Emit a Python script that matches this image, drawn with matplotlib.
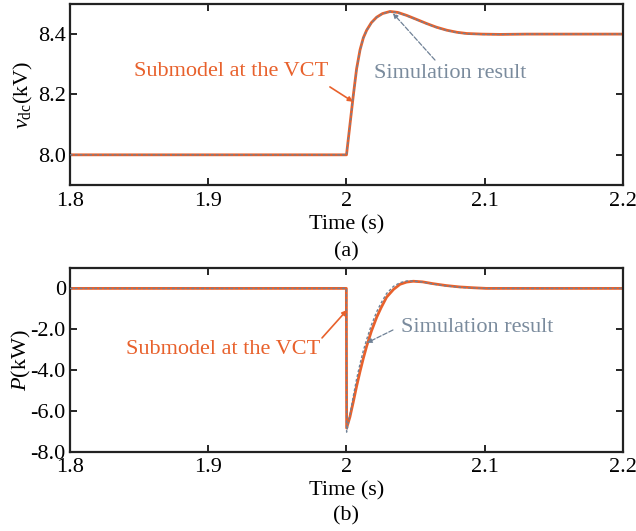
import matplotlib
matplotlib.use("Agg")
import matplotlib.pyplot as plt

# -------------------------
# DATA
# -------------------------

# (a) dc voltage, kV
t_vdc = [1.80, 2.000, 2.0025, 2.0049, 2.0073, 2.0098, 2.0122, 2.0146, 2.018, 2.0218,
         2.026, 2.0315, 2.037, 2.0435, 2.050, 2.058, 2.065, 2.0725, 2.080, 2.087,
         2.098, 2.111, 2.13, 2.20]
vdc_sub = [8.000, 8.000, 8.100, 8.196, 8.285, 8.348, 8.388, 8.413, 8.438, 8.456,
           8.468, 8.475, 8.472, 8.462, 8.450, 8.435, 8.423, 8.413, 8.406, 8.402,
           8.400, 8.399, 8.400, 8.400]
vdc_sim = [8.000, 8.000, 8.098, 8.194, 8.283, 8.347, 8.387, 8.412, 8.437, 8.455,
           8.468, 8.474, 8.471, 8.461, 8.449, 8.434, 8.422, 8.412, 8.405, 8.401,
           8.399, 8.399, 8.400, 8.400]

# (b) active power, kW
t_p = [1.80, 1.9999, 2.0001, 2.0025, 2.0049, 2.0073, 2.0098, 2.0122, 2.0146, 2.018,
       2.0218, 2.025, 2.029, 2.034, 2.0387, 2.0435, 2.0483, 2.055, 2.0627, 2.072,
       2.082, 2.092, 2.101, 2.12, 2.20]
p_sub = [0.0, 0.0, -6.85, -6.30, -5.57, -4.80, -4.07, -3.42, -2.83, -2.10,
         -1.42, -0.95, -0.43, -0.05, 0.20, 0.31, 0.35, 0.32, 0.23, 0.14,
         0.07, 0.03, 0.0, 0.0, 0.0]
p_sim = [0.0, 0.0, -7.05, -6.20, -5.30, -4.45, -3.70, -3.05, -2.50, -1.80,
         -1.15, -0.72, -0.25, 0.10, 0.28, 0.36, 0.36, 0.31, 0.21, 0.12,
         0.05, 0.02, 0.0, 0.0, 0.0]

x_ticks = [1.8, 1.9, 2.0, 2.1, 2.2]
x_ticklabels = ["1.8", "1.9", "2", "2.1", "2.2"]
vdc_ticks = [8.0, 8.2, 8.4]
vdc_ticklabels = ["8.0", "8.2", "8.4"]
p_ticks = [0, -2, -4, -6, -8]
p_ticklabels = ["0", "-2.0", "-4.0", "-6.0", "-8.0"]

# -------------------------
# STYLE
# -------------------------
plt.rcParams['font.family'] = ['Liberation Serif', 'DejaVu Serif']
plt.rcParams['mathtext.fontset'] = 'custom'
plt.rcParams['mathtext.rm'] = 'Liberation Serif'
plt.rcParams['mathtext.it'] = 'Liberation Serif:italic'
plt.rcParams['font.size'] = 16

fs = 16
orange = '#E8612C'
grey = '#6F8196'
text_grey = '#7A8B9D'

fig = plt.figure(figsize=(6.36, 5.31), dpi=100)
ax1 = fig.add_axes([0.110, 0.6516, 0.8696, 0.341])
ax2 = fig.add_axes([0.110, 0.1497, 0.8696, 0.3456])


def style_axis(ax):
    ax.set_xlim(1.8, 2.2)
    ax.set_xticks(x_ticks)
    ax.set_xticklabels(x_ticklabels)
    ax.tick_params(direction='in', top=True, right=True, length=5, width=1.2,
                   labelsize=fs, pad=3)
    ax.tick_params(axis='x', pad=5)
    for sp in ax.spines.values():
        sp.set_linewidth(1.6)
        sp.set_color('#222222')


def arrow(ax, start, end, color, ls='-', lw=1.2):
    ax.annotate('', xy=end, xytext=start,
                arrowprops=dict(arrowstyle='-|>', color=color, lw=lw, ls=ls,
                                mutation_scale=7, shrinkA=0, shrinkB=0))


# --- (a) ---
ax1.plot(t_vdc, vdc_sub, color=orange, lw=2.0, zorder=2)
ax1.plot(t_vdc, vdc_sim, color=grey, lw=1.0, ls=(0, (2, 1.5)), zorder=3)
style_axis(ax1)
ax1.set_ylim(7.9, 8.5)
ax1.set_yticks(vdc_ticks)
ax1.set_yticklabels(vdc_ticklabels)
ax1.set_ylabel(r'$v_{\mathrm{dc}}$(kV)', fontsize=fs, labelpad=2)
ax1.set_xlabel('Time (s)', fontsize=fs, labelpad=3)
ax1.text(0.5, -0.37, '(a)', transform=ax1.transAxes, ha='center', va='center', fontsize=fs)

ax1.text(1.9165, 8.275, 'Submodel at the VCT', color=orange, fontsize=fs,
         ha='center', va='center')
arrow(ax1, (1.988, 8.225), (2.0047, 8.176), orange)
ax1.text(2.0749, 8.268, 'Simulation result', color=text_grey, fontsize=fs,
         ha='center', va='center')
arrow(ax1, (2.064, 8.314), (2.0336, 8.469), grey, ls='--', lw=0.9)

# --- (b) ---
ax2.plot(t_p, p_sub, color=orange, lw=2.0, zorder=2)
ax2.plot(t_p, p_sim, color=grey, lw=1.0, ls=(0, (2, 1.5)), zorder=3)
style_axis(ax2)
ax2.set_ylim(-8, 1)
ax2.set_yticks(p_ticks)
ax2.set_yticklabels(p_ticklabels)
ax2.set_ylabel(r'$P$(kW)', fontsize=fs, labelpad=-2)
ax2.set_xlabel('Time (s)', fontsize=fs, labelpad=3)
ax2.text(0.5, -0.35, '(b)', transform=ax2.transAxes, ha='center', va='center', fontsize=fs)

ax2.text(1.911, -3.02, 'Submodel at the VCT', color=orange, fontsize=fs,
         ha='center', va='center')
arrow(ax2, (1.9823, -2.43), (2.0004, -1.06), orange)
ax2.text(2.0944, -1.94, 'Simulation result', color=text_grey, fontsize=fs,
         ha='center', va='center')
arrow(ax2, (2.0336, -2.04), (2.0148, -2.67), grey, ls='--', lw=0.9)

fig.savefig('out.png', dpi=100)
